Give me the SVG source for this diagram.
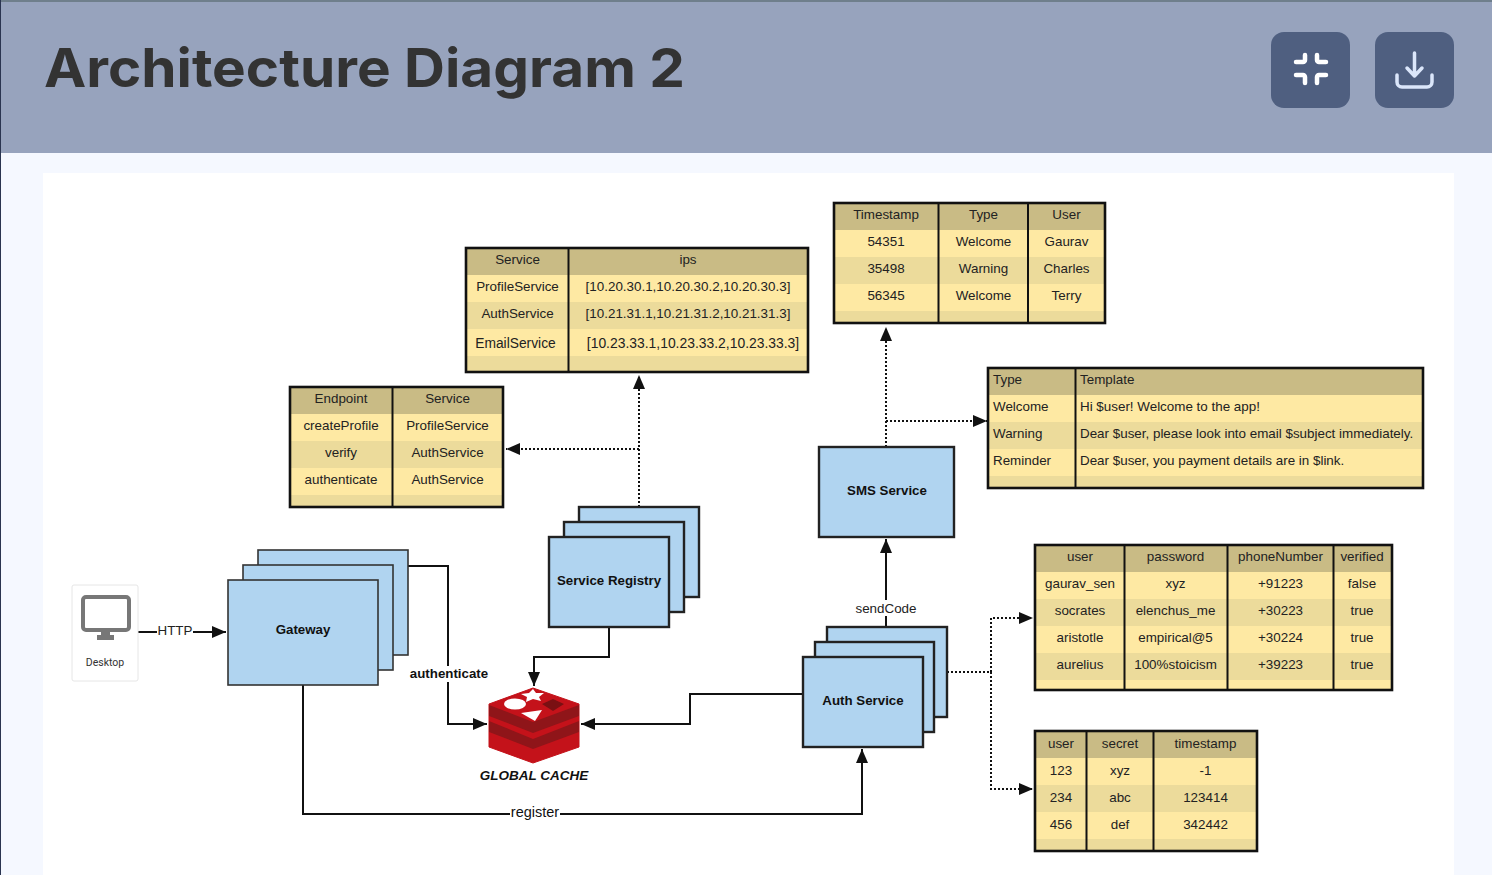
<svg xmlns="http://www.w3.org/2000/svg" width="1492" height="875" viewBox="0 0 1492 875">
<style>
text{font-family:"Liberation Sans",Arial,sans-serif;fill:#222}
.c{font-size:13.4px;text-anchor:middle}
.l{font-size:13.4px}
.b{font-weight:bold;font-size:13.3px;text-anchor:middle;fill:#111}
.h{fill:#c9bb85}.o{fill:#fee9a3}.e{fill:#ecdb9b}
.f{fill:none;stroke:#111;stroke-width:2.6}
.d{stroke:#111;stroke-width:2}
.box{fill:#b0d4f0;stroke:#222;stroke-width:2.4}
.thin{fill:#b0d4f0;stroke:#333;stroke-width:1.6}
.s{fill:none;stroke:#111;stroke-width:2;marker-end:url(#a)}
.p{fill:none;stroke:#111;stroke-width:2;stroke-dasharray:2 2}
.pa{fill:none;stroke:#111;stroke-width:2;stroke-dasharray:2 2;marker-end:url(#a)}
.lbg{fill:#fff}
</style>
<defs>
<marker id="a" markerUnits="userSpaceOnUse" markerWidth="16" markerHeight="14" refX="14" refY="6" orient="auto"><path d="M0 0L14 6L0 12Z" fill="#111"/></marker>
</defs>
<rect width="1492" height="875" fill="#f5f8ff"/>
<rect x="43" y="173" width="1411" height="702" fill="#fff"/>
<g id="header">
<rect width="1492" height="153" fill="#97a3bd"/>
<rect width="1492" height="2" fill="#6f7f8c"/>
<rect width="1" height="875" fill="#2a3450"/>
<text x="44" y="87" font-size="54" font-weight="700" textLength="641" lengthAdjust="spacingAndGlyphs" style="font-family:Inter,'Noto Sans',sans-serif;fill:#333">Architecture Diagram 2</text>
</g>
<g id="btn-collapse">
<rect x="1271" y="32" width="79" height="76" rx="13" fill="#4f5f80"/>
<path d="M1305 55v5a2 2 0 0 1-2 2h-7M1317 55v5a2 2 0 0 0 2 2h7M1296 75h7a2 2 0 0 1 2 2v6M1326 75h-7a2 2 0 0 0-2 2v6" fill="none" stroke="#fff" stroke-width="4.500" stroke-linecap="round"/>
</g>
<g id="btn-download">
<rect x="1375" y="32" width="79" height="76" rx="13" fill="#4f5f80"/>
<path d="M1414.500 53v23M1407 68l7.500 8l7.500-8M1397 75v7a5 5 0 0 0 5 5h25a5 5 0 0 0 5-5v-7" fill="none" stroke="#dbe6fa" stroke-width="3.500" stroke-linecap="round" stroke-linejoin="round"/>
</g>

<g id="connectors">
<path class="s" d="M138 632H226"/>
<path class="s" d="M408 566H448V724H487"/>
<path class="s" d="M609 627V657H534V686"/>
<path class="s" d="M803 694H690V724H581"/>
<path class="s" d="M303 685V814H862V749"/>
<path class="s" d="M886 627V539"/>
<path class="pa" d="M639 507V375"/>
<path class="pa" d="M639 449H506"/>
<path class="pa" d="M886 447V327"/>
<path class="pa" d="M886 421H987"/>
<path class="p" d="M947 672H991"/>
<path class="pa" d="M991 672V618H1033"/>
<path class="pa" d="M991 672V789H1033"/>
<rect class="lbg" x="157" y="623" width="36" height="16"/>
<text class="c" x="175" y="635">HTTP</text>
<rect class="lbg" x="407" y="666" width="84" height="16"/>
<text class="b" x="449" y="678">authenticate</text>
<rect class="lbg" x="510" y="805" width="50" height="16"/>
<text class="c" x="535" y="817" style="font-size:14.500px;font-weight:500;fill:#111">register</text>
<rect class="lbg" x="855" y="600" width="62" height="16"/>
<text class="c" x="886" y="613">sendCode</text>
</g>

<g id="desktop">
<rect x="72" y="585" width="66" height="96" rx="2" fill="#fff" stroke="#e6e6e6"/>
<rect x="83" y="597" width="46" height="33" rx="3" fill="none" stroke="#777" stroke-width="4"/>
<rect x="101" y="630" width="9" height="6" fill="#777"/>
<rect x="97" y="635" width="17" height="5" fill="#777"/>
<text x="105" y="666" text-anchor="middle" style="font-family:Roboto,sans-serif;font-size:10.500px;fill:#333">Desktop</text>
</g>

<g id="gateway">
<rect class="thin" x="258" y="550" width="150" height="105"/>
<rect class="thin" x="243" y="565" width="150" height="105"/>
<rect class="thin" x="228" y="580" width="150" height="105"/>
<text class="b" x="303" y="634">Gateway</text>
</g>
<g id="service-registry">
<rect class="box" x="579" y="507" width="120" height="90"/>
<rect class="box" x="564" y="522" width="120" height="90"/>
<rect class="box" x="549" y="537" width="120" height="90"/>
<text class="b" x="609" y="585">Service Registry</text>
</g>
<g id="auth-service">
<rect class="box" x="827" y="627" width="120" height="90"/>
<rect class="box" x="815" y="642" width="119" height="90"/>
<rect class="box" x="803" y="657" width="120" height="90"/>
<text class="b" x="863" y="705">Auth Service</text>
</g>
<g id="sms-service">
<rect class="box" x="819" y="447" width="135" height="90"/>
<text class="b" x="887" y="495">SMS Service</text>
</g>

<g id="global-cache">
<path d="M533 688L579 704V747L533 763L489 747V704Z" fill="#c4121a" stroke="#c4121a" stroke-width="1" stroke-linejoin="round"/>
<path d="M489 705L533 722L579 705V716L533 733L489 716Z" fill="#8f1519"/>
<path d="M489 721L533 739L579 721V732L533 749L489 732Z" fill="#8f1519"/>
<ellipse cx="515" cy="704" rx="11" ry="5.500" fill="#fff"/>
<path d="M533 689L536 693L544 693L539 697L541 701L533 699L526 702L527 697L521 694L529 693Z" fill="#fff"/>
<path d="M521 713L542 710L535 721Z" fill="#fff"/>
<path d="M542 704L553 699L564 704L553 711Z" fill="#7a1013"/>
<text x="534" y="780" text-anchor="middle" style="font-size:13.500px;font-weight:bold;font-style:italic;fill:#111">GLOBAL CACHE</text>
</g>

<g id="table-notifications">
<rect class="h" x="834" y="203" width="271" height="27"/><rect class="o" x="834" y="230" width="271" height="27"/><rect class="e" x="834" y="257" width="271" height="27"/><rect class="o" x="834" y="284" width="271" height="27"/><rect class="e" x="834" y="311" width="271" height="12"/>
<rect class="f" x="834" y="203" width="271" height="120"/>
<path class="d" d="M938.500 203V323M1028 203V323"/>
<text class="c" x="886" y="219">Timestamp</text><text class="c" x="983.500" y="219">Type</text><text class="c" x="1066.500" y="219">User</text>
<text class="c" x="886" y="246">54351</text><text class="c" x="983.500" y="246">Welcome</text><text class="c" x="1066.500" y="246">Gaurav</text>
<text class="c" x="886" y="273">35498</text><text class="c" x="983.500" y="273">Warning</text><text class="c" x="1066.500" y="273">Charles</text>
<text class="c" x="886" y="300">56345</text><text class="c" x="983.500" y="300">Welcome</text><text class="c" x="1066.500" y="300">Terry</text>
</g>

<g id="table-service-ips">
<rect class="h" x="466" y="248" width="342" height="27"/><rect class="o" x="466" y="275" width="342" height="27"/><rect class="e" x="466" y="302" width="342" height="27"/><rect class="o" x="466" y="329" width="342" height="27"/><rect class="e" x="466" y="356" width="342" height="16"/>
<rect class="f" x="466" y="248" width="342" height="124"/>
<path class="d" d="M568.500 248V372"/>
<text class="c" x="517.500" y="264">Service</text><text class="c" x="688" y="264">ips</text>
<text class="c" x="517.500" y="291">ProfileService</text><text class="c" x="688" y="291">[10.20.30.1,10.20.30.2,10.20.30.3]</text>
<text class="c" x="517.500" y="318">AuthService</text><text class="c" x="688" y="318">[10.21.31.1,10.21.31.2,10.21.31.3]</text>
<text class="c" x="515.500" y="348" style="font-size:13.800px">EmailService</text><text class="c" x="693" y="348" style="font-size:13.900px">[10.23.33.1,10.23.33.2,10.23.33.3]</text>
</g>

<g id="table-endpoints">
<rect class="h" x="290" y="387" width="213" height="27"/><rect class="o" x="290" y="414" width="213" height="27"/><rect class="e" x="290" y="441" width="213" height="27"/><rect class="o" x="290" y="468" width="213" height="27"/><rect class="e" x="290" y="495" width="213" height="12"/>
<rect class="f" x="290" y="387" width="213" height="120"/>
<path class="d" d="M392.500 387V507"/>
<text class="c" x="341" y="403">Endpoint</text><text class="c" x="447.500" y="403">Service</text>
<text class="c" x="341" y="430">createProfile</text><text class="c" x="447.500" y="430">ProfileService</text>
<text class="c" x="341" y="457">verify</text><text class="c" x="447.500" y="457">AuthService</text>
<text class="c" x="341" y="484">authenticate</text><text class="c" x="447.500" y="484">AuthService</text>
</g>

<g id="table-templates">
<rect class="h" x="988" y="368" width="435" height="27"/><rect class="o" x="988" y="395" width="435" height="27"/><rect class="e" x="988" y="422" width="435" height="27"/><rect class="o" x="988" y="449" width="435" height="27"/><rect class="e" x="988" y="476" width="435" height="12"/>
<rect class="f" x="988" y="368" width="435" height="120"/>
<path class="d" d="M1075.500 368V488"/>
<text class="l" x="993" y="384">Type</text><text class="l" x="1080" y="384">Template</text>
<text class="l" x="993" y="411">Welcome</text><text class="l" x="1080" y="411">Hi $user! Welcome to the app!</text>
<text class="l" x="993" y="438">Warning</text><text class="l" x="1080" y="438">Dear $user, please look into email $subject immediately.</text>
<text class="l" x="993" y="465">Reminder</text><text class="l" x="1080" y="465">Dear $user, you payment details are in $link.</text>
</g>

<g id="table-users">
<rect class="h" x="1035" y="545" width="357" height="27"/><rect class="o" x="1035" y="572" width="357" height="27"/><rect class="e" x="1035" y="599" width="357" height="27"/><rect class="o" x="1035" y="626" width="357" height="27"/><rect class="e" x="1035" y="653" width="357" height="27"/><rect class="o" x="1035" y="680" width="357" height="10"/>
<rect class="f" x="1035" y="545" width="357" height="145"/>
<path class="d" d="M1124.500 545V690M1227.500 545V690M1333.500 545V690"/>
<text class="c" x="1080" y="561">user</text><text class="c" x="1175.500" y="561">password</text><text class="c" x="1280.500" y="561">phoneNumber</text><text class="c" x="1362" y="561">verified</text>
<text class="c" x="1080" y="588">gaurav_sen</text><text class="c" x="1175.500" y="588">xyz</text><text class="c" x="1280.500" y="588">+91223</text><text class="c" x="1362" y="588">false</text>
<text class="c" x="1080" y="615">socrates</text><text class="c" x="1175.500" y="615">elenchus_me</text><text class="c" x="1280.500" y="615">+30223</text><text class="c" x="1362" y="615">true</text>
<text class="c" x="1080" y="642">aristotle</text><text class="c" x="1175.500" y="642">empirical@5</text><text class="c" x="1280.500" y="642">+30224</text><text class="c" x="1362" y="642">true</text>
<text class="c" x="1080" y="669">aurelius</text><text class="c" x="1175.500" y="669">100%stoicism</text><text class="c" x="1280.500" y="669">+39223</text><text class="c" x="1362" y="669">true</text>
</g>

<g id="table-secrets">
<rect class="h" x="1035" y="731" width="222" height="27"/><rect class="o" x="1035" y="758" width="222" height="27"/><rect class="e" x="1035" y="785" width="222" height="27"/><rect class="o" x="1035" y="812" width="222" height="27"/><rect class="e" x="1035" y="839" width="222" height="12"/>
<rect class="f" x="1035" y="731" width="222" height="120"/>
<path class="d" d="M1086.500 731V851M1153.500 731V851"/>
<text class="c" x="1061" y="748">user</text><text class="c" x="1120" y="748">secret</text><text class="c" x="1205.500" y="748">timestamp</text>
<text class="c" x="1061" y="775">123</text><text class="c" x="1120" y="775">xyz</text><text class="c" x="1205.500" y="775">-1</text>
<text class="c" x="1061" y="802">234</text><text class="c" x="1120" y="802">abc</text><text class="c" x="1205.500" y="802">123414</text>
<text class="c" x="1061" y="829">456</text><text class="c" x="1120" y="829">def</text><text class="c" x="1205.500" y="829">342442</text>
</g>
</svg>
